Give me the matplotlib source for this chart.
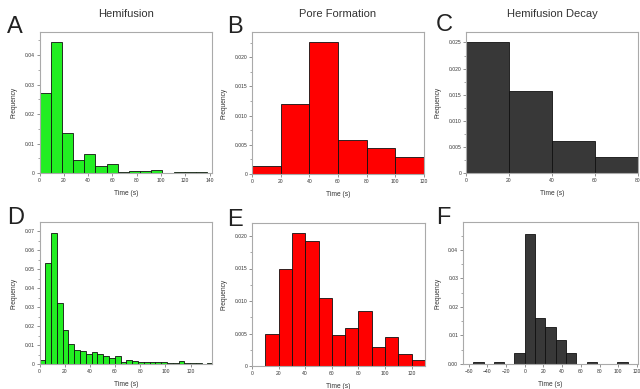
import numpy as np
import matplotlib
matplotlib.use("Agg")
import matplotlib.pyplot as plt
from matplotlib.ticker import MultipleLocator

plt.rcParams['font.family'] = ['Liberation Sans', 'DejaVu Sans']

# ---------------- data ----------------
titles = ["Hemifusion", "Pore Formation", "Hemifusion Decay"]
letters = ["A", "B", "C", "D", "E", "F"]

# A: hemifusion (coarse bins)
a_edges = np.linspace(0, 138, 16)
a_freq = [0.0271, 0.0444, 0.0137, 0.0045, 0.0066, 0.0024, 0.0032, 0.0004,
          0.0006, 0.0007, 0.0009, 0.0, 0.0005, 0.0003, 0.0005]

# B: pore formation
b_edges = [0, 20, 40, 60, 80, 100, 120]
b_freq = [0.0014, 0.0119, 0.0226, 0.0059, 0.0044, 0.0029]

# C: hemifusion decay
c_edges = [0, 20, 40, 60, 80]
c_freq = [0.0251, 0.0157, 0.0062, 0.0031]

# D: hemifusion (fine bins)
d_edges = np.linspace(0, 138, 31)
d_freq = [0.0021, 0.0532, 0.0690, 0.0322, 0.0177, 0.0103, 0.0075, 0.0066,
          0.0055, 0.0062, 0.0052, 0.0040, 0.0032, 0.0040, 0.0010, 0.0022,
          0.0018, 0.0012, 0.0012, 0.0012, 0.0010, 0.0008, 0.0006, 0.0006,
          0.0015, 0.0007, 0.0005, 0.0003, 0.0002, 0.0004]

# E: pore formation
e_edges = [10, 20, 30, 40, 50, 60, 70, 80, 90, 100, 110, 120, 130]
e_freq = [0.0049, 0.0150, 0.0204, 0.0193, 0.0104, 0.0048, 0.0059, 0.0084,
          0.0029, 0.0045, 0.0019, 0.0009]

# F: hemifusion decay
f_edges = [-55, -44, -33, -22, -11, 0, 11, 22, 33, 44, 55, 66, 77, 88, 99, 110]
f_freq = [0.0006, 0.0, 0.0006, 0.0, 0.0037, 0.0455, 0.0163, 0.0130, 0.0085,
          0.0039, 0.0, 0.0006, 0.0, 0.0, 0.0006]

green = "#22ee22"
red = "#ff0000"
dark = "#383838"

# ---------------- layout ----------------
W, H = 640, 389
fig = plt.figure(figsize=(6.4, 3.89), dpi=100)

def px_axes(l, r, t, b):
    return fig.add_axes([l / W, 1 - b / H, (r - l) / W, (b - t) / H])

panels = [
    dict(box=(39.5, 212, 32, 173), edges=a_edges, freq=a_freq, color=green,
         xlim=(0, 142), xticks=[0, 20, 40, 60, 80, 100, 120, 140],
         ylim=(0, 0.0478), yticks=[0, 0.01, 0.02, 0.03, 0.04],
         ylabels=["0", "0.01", "0.02", "0.03", "0.04"]),
    dict(box=(252, 424, 32, 174), edges=b_edges, freq=b_freq, color=red,
         xlim=(0, 120), xticks=[0, 20, 40, 60, 80, 100, 120],
         ylim=(0, 0.0243), yticks=[0, 0.005, 0.010, 0.015, 0.020],
         ylabels=["0", "0.005", "0.010", "0.015", "0.020"]),
    dict(box=(466, 638, 32, 173), edges=c_edges, freq=c_freq, color=dark,
         xlim=(0, 80), xticks=[0, 20, 40, 60, 80],
         ylim=(0, 0.027), yticks=[0, 0.005, 0.010, 0.015, 0.020, 0.025],
         ylabels=["0", "0.005", "0.010", "0.015", "0.020", "0.025"]),
    dict(box=(39.5, 212, 222, 364), edges=d_edges, freq=d_freq, color=green,
         xlim=(0, 137), xticks=[0, 20, 40, 60, 80, 100, 120],
         ylim=(0, 0.0749), yticks=[0, 0.01, 0.02, 0.03, 0.04, 0.05, 0.06, 0.07],
         ylabels=["0", "0.01", "0.02", "0.03", "0.04", "0.05", "0.06", "0.07"]),
    dict(box=(252, 425, 223, 366), edges=e_edges, freq=e_freq, color=red,
         xlim=(0, 130), xticks=[0, 20, 40, 60, 80, 100, 120],
         ylim=(0, 0.022), yticks=[0, 0.005, 0.010, 0.015, 0.020],
         ylabels=["0", "0.005", "0.010", "0.015", "0.020"]),
    dict(box=(463, 638, 222, 364), edges=f_edges, freq=f_freq, color=dark,
         xlim=(-66, 121), xticks=[-60, -40, -20, 0, 20, 40, 60, 80, 100, 120],
         ylim=(0, 0.0498), yticks=[0, 0.01, 0.02, 0.03, 0.04],
         ylabels=["0.00", "0.01", "0.02", "0.03", "0.04"]),
]

letter_pos = [(7, 33), (227, 33), (436, 31), (7, 224), (227, 226), (436, 224)]

for i, p in enumerate(panels):
    ax = px_axes(*p["box"])
    edges = np.asarray(p["edges"], dtype=float)
    ax.bar(edges[:-1], p["freq"], width=np.diff(edges), align="edge",
           color=p["color"], edgecolor="#111111", linewidth=0.6)
    ax.set_xlim(*p["xlim"])
    ax.set_ylim(*p["ylim"])
    ax.set_xticks(p["xticks"])
    ax.set_yticks(p["yticks"])
    ax.set_yticklabels(p["ylabels"])
    step = p["yticks"][1] - p["yticks"][0]
    ax.yaxis.set_minor_locator(MultipleLocator(step / 2))
    ax.tick_params(axis="both", which="major", labelsize=3.6, length=2,
                   width=0.5, color="#666666", pad=1.5, labelcolor="#333333")
    ax.tick_params(axis="y", which="minor", length=1.2, width=0.4, color="#666666")
    for s in ax.spines.values():
        s.set_color("#aaaaaa")
        s.set_linewidth(0.8)
    ax.set_xlabel("Time (s)", fontsize=4.8, labelpad=5, color="#333333")
    ax.set_ylabel("Frequency", fontsize=4.8, labelpad=5, color="#333333")
    if i < 3:
        ax.set_title(titles[i], fontsize=8, pad=11, color="#333333")
    lx, ly = letter_pos[i]
    fig.text(lx / W, 1 - ly / H, letters[i], fontsize=17, color="#222222",
             ha="left", va="baseline")

fig.savefig("out.png", dpi=100, facecolor="white")
